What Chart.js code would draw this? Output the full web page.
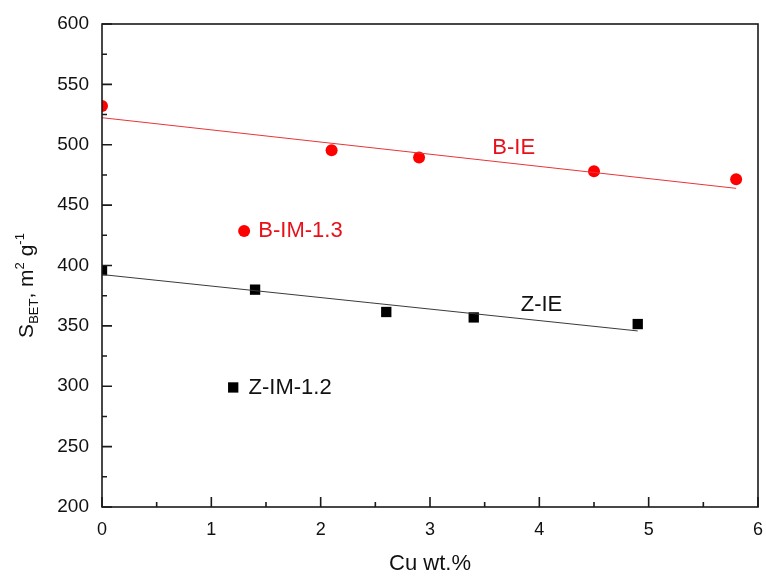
<!DOCTYPE html>
<html lang="en">
<head>
<meta charset="UTF-8">
<title>BET surface area vs Cu loading</title>
<script src="https://cdn.jsdelivr.net/npm/chart.js"></script>
<style>
  html, body { margin: 0; padding: 0; background: #fff; }
</style>
</head>
<body>
<canvas id="chartBet" width="766" height="579"></canvas>
<script>
// Cu loading (wt.%) against BET surface area (m2/g)
const bieCu = [0, 2.1, 2.9, 4.5, 5.8];
const bieS = [532, 495.5, 489.5, 478, 471.5];
const zieCu = [0, 1.4, 2.6, 3.4, 4.9];
const zieS = [396, 380, 361.5, 357, 351.5];
const bimCu = [1.3];
const bimS = [428.5];
const zimCu = [1.2];
const zimS = [299];
// straight fits through the IE series
const bieFitCu = [0, 5.8];
const bieFitS = [522.4, 463.9];
const zieFitCu = [0, 4.9];
const zieFitS = [392.5, 345.8];
const xTicks = [0, 1, 2, 3, 4, 5, 6];
const yTicks = [200, 250, 300, 350, 400, 450, 500, 550, 600];

const RED = '#ff0000';
const FONT = '"Liberation Sans", Arial, sans-serif';

// text tags beside the series, anchored in data units
const tags = [
  { text: 'B-IE', x: 3.57, y: 497, color: '#e8101a' },
  { text: 'B-IM-1.3', x: 1.43, y: 428.6, color: '#e8101a' },
  { text: 'Z-IE', x: 3.83, y: 367, color: '#111' },
  { text: 'Z-IM-1.2', x: 1.34, y: 299, color: '#111' }
];

const pts = (xs, ys) => xs.map((x, i) => ({ x: x, y: ys[i] }));

const frame = {
  id: 'frame',
  afterDraw(chart) {
    const { ctx, chartArea: a, scales: { x, y } } = chart;
    ctx.save();
    ctx.strokeStyle = '#1a1a1a';
    ctx.lineWidth = 1.6;
    ctx.strokeRect(a.left, a.top, a.right - a.left, a.bottom - a.top);

    // inward ticks on bottom and left, minors halfway between majors
    ctx.beginPath();
    xTicks.forEach((v, i) => {
      const px = x.getPixelForValue(v);
      ctx.moveTo(px, a.bottom); ctx.lineTo(px, a.bottom - 10);
      if (i < xTicks.length - 1) {
        const mx = x.getPixelForValue((v + xTicks[i + 1]) / 2);
        ctx.moveTo(mx, a.bottom); ctx.lineTo(mx, a.bottom - 5);
      }
    });
    yTicks.forEach((v, i) => {
      const py = y.getPixelForValue(v);
      ctx.moveTo(a.left, py); ctx.lineTo(a.left + 10, py);
      if (i < yTicks.length - 1) {
        const my = y.getPixelForValue((v + yTicks[i + 1]) / 2);
        ctx.moveTo(a.left, my); ctx.lineTo(a.left + 5, my);
      }
    });
    ctx.stroke();

    ctx.font = '22px ' + FONT;
    ctx.textBaseline = 'middle';
    ctx.textAlign = 'left';
    tags.forEach(t => {
      ctx.fillStyle = t.color;
      ctx.fillText(t.text, x.getPixelForValue(t.x), y.getPixelForValue(t.y));
    });

    // y title with subscript and superscripts
    const parts = [
      { s: 'S', size: 21, dy: 0 },
      { s: 'BET', size: 13, dy: 5 },
      { s: ', m', size: 21, dy: 0 },
      { s: '2', size: 13, dy: -9 },
      { s: ' g', size: 21, dy: 0 },
      { s: '-1', size: 13, dy: -9 }
    ];
    let total = 0;
    parts.forEach(p => { ctx.font = p.size + 'px ' + FONT; p.w = ctx.measureText(p.s).width; total += p.w; });
    ctx.translate(33, (a.top + a.bottom) / 2 + 20);
    ctx.rotate(-Math.PI / 2);
    ctx.fillStyle = '#111';
    ctx.textBaseline = 'alphabetic';
    let cx = -total / 2;
    parts.forEach(p => {
      ctx.font = p.size + 'px ' + FONT;
      ctx.fillText(p.s, cx, p.dy);
      cx += p.w;
    });
    ctx.restore();
  }
};

new Chart(document.getElementById('chartBet'), {
  type: 'scatter',
  data: {
    datasets: [
      { data: pts(bieFitCu, bieFitS), showLine: true, borderColor: '#e8343a', borderWidth: 1, pointRadius: 0 },
      { data: pts(zieFitCu, zieFitS), showLine: true, borderColor: '#3a3a3a', borderWidth: 1, pointRadius: 0 },
      { data: pts(bieCu, bieS), pointStyle: 'circle', pointRadius: 6, backgroundColor: RED, borderWidth: 0 },
      { data: pts(bimCu, bimS), pointStyle: 'circle', pointRadius: 6, backgroundColor: RED, borderWidth: 0 },
      { data: pts(zieCu, zieS), pointStyle: 'rect', pointRadius: 7.3, backgroundColor: '#000', borderWidth: 0 },
      { data: pts(zimCu, zimS), pointStyle: 'rect', pointRadius: 7.3, backgroundColor: '#000', borderWidth: 0 }
    ]
  },
  options: {
    responsive: false,
    animation: false,
    devicePixelRatio: 1,
    layout: { padding: { top: 24, right: 8, left: 0, bottom: 0 } },
    plugins: { legend: { display: false }, tooltip: { enabled: false } },
    scales: {
      x: {
        type: 'linear', min: 0, max: 6,
        grid: { display: false, drawTicks: false }, border: { display: false },
        ticks: { stepSize: 1, padding: 12, color: '#111', font: { family: FONT, size: 18 } },
        title: { display: true, text: 'Cu wt.%', color: '#111', font: { family: FONT, size: 22 }, padding: { top: 0, bottom: 2 } },
        afterFit(s) { s.height = 72; s.paddingLeft = 0; s.paddingRight = 0; }
      },
      y: {
        type: 'linear', min: 200, max: 600,
        grid: { display: false, drawTicks: false }, border: { display: false },
        ticks: { stepSize: 50, padding: 13, color: '#111', font: { family: FONT, size: 19 } },
        afterFit(s) { s.width = 102; s.paddingTop = 0; s.paddingBottom = 0; }
      }
    }
  },
  plugins: [frame]
});
</script>
</body>
</html>
